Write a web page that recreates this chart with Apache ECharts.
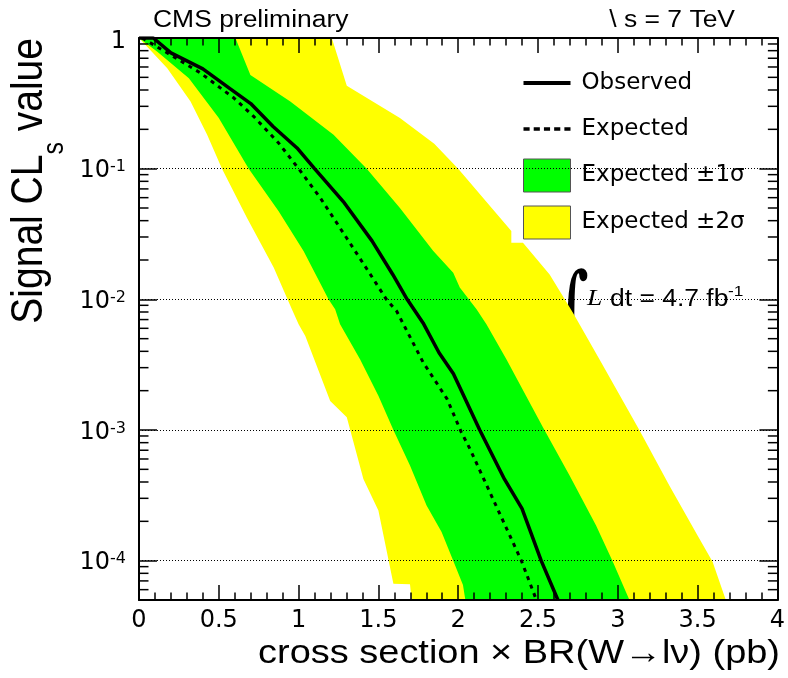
<!DOCTYPE html>
<html>
<head>
<meta charset="utf-8">
<title>Signal CLs value vs cross section × BR(W→lν)</title>
<script src="https://cdn.jsdelivr.net/npm/echarts@6/dist/echarts.min.js"></script>
<style>
  html, body { margin: 0; padding: 0; background: #fff; overflow: hidden; }
  #chart { width: 788px; height: 678px; }
</style>
</head>
<body>
<div id="chart"></div>
<script>
// ---- data: cross section × BR (pb) against signal CLs ----
const observed = [
  [0, 1], [0.09, 1], [0.2, 0.77], [0.4, 0.58], [0.57, 0.41], [0.7, 0.315],
  [0.84, 0.21], [0.99, 0.144], [1.1, 0.1], [1.28, 0.056], [1.46, 0.028],
  [1.59, 0.0155], [1.68, 0.01], [1.78, 0.0066], [1.88, 0.0039], [1.97, 0.0027],
  [2.02, 0.002], [2.135, 0.001], [2.29, 4.2e-4], [2.4, 2.5e-4], [2.52, 1.0e-4],
  [2.625, 5e-5]
];
const expected = [
  [0.02, 1], [0.2, 0.74], [0.385, 0.54], [0.595, 0.347], [0.72, 0.25],
  [0.875, 0.157], [1.0, 0.1], [1.135, 0.06], [1.3, 0.0296], [1.45, 0.0155],
  [1.55, 0.01], [1.615, 0.0081], [1.78, 0.0033], [1.93, 0.00173], [2.02, 9.6e-4],
  [2.073, 7.2e-4], [2.208, 3.15e-4], [2.323, 1.56e-4], [2.396, 1.0e-4], [2.49, 5e-5]
];
// ±1σ band edges
const sigma1Upper = [
  [0, 1], [0.604, 1], [0.698, 0.522], [0.948, 0.327], [1.219, 0.182], [1.427, 0.1],
  [1.635, 0.05], [1.844, 0.0234], [1.969, 0.016], [2.01, 0.0123], [2.115, 0.0084],
  [2.177, 0.00646], [2.302, 0.00348], [2.531, 0.00105], [2.698, 4.48e-4],
  [2.864, 1.86e-4], [2.969, 9.8e-5], [3.073, 5e-5]
];
const sigma1Lower = [
  [0, 1], [0.115, 0.785], [0.3125, 0.492], [0.5, 0.244], [0.6875, 0.1], [0.875, 0.0472],
  [1.031, 0.0234], [1.1875, 0.01], [1.229, 0.0084], [1.26, 0.00646], [1.385, 0.00348],
  [1.5, 0.00183], [1.594, 0.001], [1.698, 5.35e-4], [1.802, 2.64e-4], [1.896, 1.66e-4],
  [1.969, 1.0e-4], [2.03, 6.5e-5], [2.045, 5e-5]
];
// ±2σ band edges
const sigma2Upper = [
  [0, 1], [1.208, 1], [1.302, 0.432], [1.635, 0.244], [1.85, 0.155], [2.0, 0.1],
  [2.333, 0.0333], [2.333, 0.0271], [2.406, 0.0271], [2.573, 0.0155], [2.719, 0.0079],
  [2.885, 0.00348], [3.135, 0.001], [3.323, 3.76e-4], [3.5, 1.56e-4], [3.594, 9.8e-5],
  [3.677, 5e-5]
];
const sigma2Lower = [
  [0, 1], [0.177, 0.587], [0.323, 0.327], [0.427, 0.182], [0.52, 0.1], [0.677, 0.042],
  [0.844, 0.0175], [0.958, 0.0084], [1.0, 0.00646], [1.042, 0.00525], [1.198, 0.00167],
  [1.302, 0.00125], [1.406, 4.22e-4], [1.5, 2.42e-4], [1.594, 6.67e-5], [1.698, 6.6e-5],
  [1.708, 5e-5]
];

// axis ranges
const xRange = [0, 4];
const xStep = 0.5;
const clsRange = [5e-5, 1];

// lettering: wide sans for axis labels and legend, stretched Liberation for titles
const WIDE = 1.15;
const FONT = '"Liberation Sans", Arial, Helvetica, sans-serif';
const WIDE_FONT = '"DejaVu Sans", Verdana, sans-serif';
const SERIF = '"Liberation Serif", "DejaVu Serif", serif';

// minor ticks of the log axis: 2..9 × 10^n
const minorTickValues = [];
for (let e = -5; e < 0; e++) {
  for (let k = 2; k <= 9; k++) {
    const v = k * Math.pow(10, e);
    if (v > clsRange[0] * 1.0001 && v < clsRange[1]) minorTickValues.push(v);
  }
}

function clsLabel(v) {
  const lg = Math.log10(v);
  const e = Math.round(lg);
  if (Math.abs(lg - e) > 1e-6) return '';
  return e === 0 ? '{one|1}' : '10{sup|' + e + '}';
}

function bandSeries(name, color, upper, lower) {
  const outline = upper.concat(lower.slice().reverse());
  return {
    name: name,
    type: 'custom',
    coordinateSystem: 'cartesian2d',
    silent: true,
    z: 1,
    itemStyle: { color: color },
    data: [outline[0]],
    renderItem: (params, api) => ({
      type: 'polygon',
      shape: { points: outline.map(p => api.coord(p)) },
      style: { fill: color, stroke: null }
    })
  };
}

const axisLine = { show: true, onZero: false, lineStyle: { color: '#000', width: 2 } };

const xAxisBase = {
  type: 'value', min: xRange[0], max: xRange[1], interval: xStep,
  axisLine: axisLine,
  axisTick: { show: true, inside: true, length: 15, lineStyle: { color: '#000', width: 1.5 } },
  minorTick: { show: true, splitNumber: 5, length: 7.5, lineStyle: { color: '#000', width: 1.5 } },
  splitLine: { show: false },
  minorSplitLine: { show: false },
  zlevel: 1, z: 3
};

const yAxisBase = {
  type: 'log', logBase: 10, min: clsRange[0], max: clsRange[1],
  axisLine: axisLine,
  axisTick: { show: true, inside: true, length: 18, lineStyle: { color: '#000', width: 1.5 } },
  minorTick: { show: false },
  zlevel: 1, z: 3
};

// Solid and dotted legend keys, drawn as small filled paths
const solidKey = 'path://M0,0H46V4H0Z';
const dottedKey = 'path://M0,0H6V3.5H0ZM10,0H16V3.5H10ZM20,0H26V3.5H20ZM30,0H36V3.5H30ZM40,0H46V3.5H40Z';

const chart = echarts.init(document.getElementById('chart'), null, { renderer: 'canvas' });

chart.setOption({
  animation: false,
  backgroundColor: '#fff',
  grid: { left: 139, top: 38, width: 641, height: 562, containLabel: false },
  xAxis: [
    Object.assign({}, xAxisBase, {
      position: 'bottom',
      axisLabel: { fontSize: 24, color: '#000', fontFamily: WIDE_FONT, margin: 9 }
    }),
    Object.assign({}, xAxisBase, { position: 'top', axisLabel: { show: false } })
  ],
  yAxis: [
    Object.assign({}, yAxisBase, {
      position: 'left',
      splitLine: { show: true, lineStyle: { color: '#000', width: 1, type: [1, 2] } },
      axisLabel: {
        formatter: clsLabel, fontSize: 24, color: '#000', fontFamily: WIDE_FONT,
        margin: 13, padding: [5, 0, 0, 0],
        rich: {
          sup: { fontSize: 16, color: '#000', fontFamily: WIDE_FONT, verticalAlign: 'top' },
          one: { fontSize: 24, color: '#000', fontFamily: WIDE_FONT, padding: [3, 0, 0, 0] }
        }
      }
    }),
    Object.assign({}, yAxisBase, {
      position: 'right',
      splitLine: { show: false },
      axisLabel: { show: false }
    })
  ],
  legend: {
    orient: 'vertical',
    left: 523, top: 66.5, padding: 0,
    itemWidth: 47, itemHeight: 33, itemGap: 13,
    selectedMode: false,
    textStyle: { fontSize: 23, lineHeight: 33, color: '#000', fontFamily: WIDE_FONT, padding: [0, 0, 0, 6] },
    data: [
      { name: 'Observed', icon: solidKey },
      { name: 'Expected', icon: dottedKey },
      { name: 'Expected ±1σ', icon: 'rect', itemStyle: { borderColor: '#555', borderWidth: 1 } },
      { name: 'Expected ±2σ', icon: 'rect', itemStyle: { borderColor: '#555', borderWidth: 1 } }
    ]
  },
  series: [
    bandSeries('Expected ±2σ', '#ffff00', sigma2Upper, sigma2Lower),
    bandSeries('Expected ±1σ', '#00ff00', sigma1Upper, sigma1Lower),
    {
      name: 'Expected', type: 'line', data: expected, symbol: 'none', z: 4,
      itemStyle: { color: '#000' },
      lineStyle: { color: '#000', width: 3, type: [4, 5] }
    },
    {
      name: 'Observed', type: 'line', data: observed, symbol: 'none', z: 4,
      itemStyle: { color: '#000' },
      lineStyle: { color: '#000', width: 3.5 }
    },
    {
      name: 'log minor ticks', type: 'custom', coordinateSystem: 'cartesian2d',
      silent: true, zlevel: 1, z: 5,
      data: minorTickValues.map(v => [xRange[0], v]),
      renderItem: (params, api) => {
        const v = api.value(1);
        const l = api.coord([xRange[0], v]);
        const r = api.coord([xRange[1], v]);
        const len = 9.5;
        return {
          type: 'group',
          children: [
            { type: 'line', shape: { x1: l[0], y1: l[1], x2: l[0] + len, y2: l[1] }, style: { stroke: '#000', lineWidth: 1.5 } },
            { type: 'line', shape: { x1: r[0], y1: r[1], x2: r[0] - len, y2: r[1] }, style: { stroke: '#000', lineWidth: 1.5 } }
          ]
        };
      }
    }
  ],
  graphic: [
    { type: 'text', x: 153, y: 21, scaleX: WIDE,
      style: { text: 'CMS preliminary', fontSize: 23, fontFamily: FONT, fill: '#000', align: 'left', verticalAlign: 'middle' } },
    { type: 'text', x: 735, y: 21, scaleX: WIDE,
      style: { text: '\\ s = 7 TeV', fontSize: 23, fontFamily: FONT, fill: '#000', align: 'right', verticalAlign: 'middle' } },
    { type: 'text', x: 780, y: 654, scaleX: WIDE,
      style: { text: 'cross section × BR(W→lν) (pb)', fontSize: 33, fontFamily: FONT, fill: '#000', align: 'right', verticalAlign: 'middle' } },
    { type: 'text', x: 30, y: 38, rotation: Math.PI / 2, scaleY: WIDE,
      style: {
        text: 'Signal CL{sub|s} value', fontSize: 39, fontFamily: FONT, fill: '#000',
        align: 'right', verticalAlign: 'middle',
        rich: { sub: { fontSize: 25, fontFamily: FONT, fill: '#000', padding: [44, 0, 0, 0] } }
      } },
    { type: 'text', x: 571, y: 318, scaleX: 0.6 * WIDE,
      style: { text: '∫', fontSize: 100, fontFamily: '"DejaVu Serif", serif', fill: '#000', align: 'center', verticalAlign: 'middle' } },
    { type: 'text', x: 587, y: 299, scaleX: WIDE,
      style: { text: 'L', fontSize: 24, fontFamily: SERIF, fontStyle: 'italic', fill: '#000', align: 'left', verticalAlign: 'middle' } },
    { type: 'text', x: 610, y: 300, scaleX: WIDE,
      style: { text: 'dt = 4.7 fb', fontSize: 23, fontFamily: FONT, fill: '#000', align: 'left', verticalAlign: 'middle' } },
    { type: 'text', x: 728, y: 292, scaleX: WIDE,
      style: { text: '-1', fontSize: 15, fontFamily: FONT, fill: '#000', align: 'left', verticalAlign: 'middle' } }
  ]
});
</script>
</body>
</html>
